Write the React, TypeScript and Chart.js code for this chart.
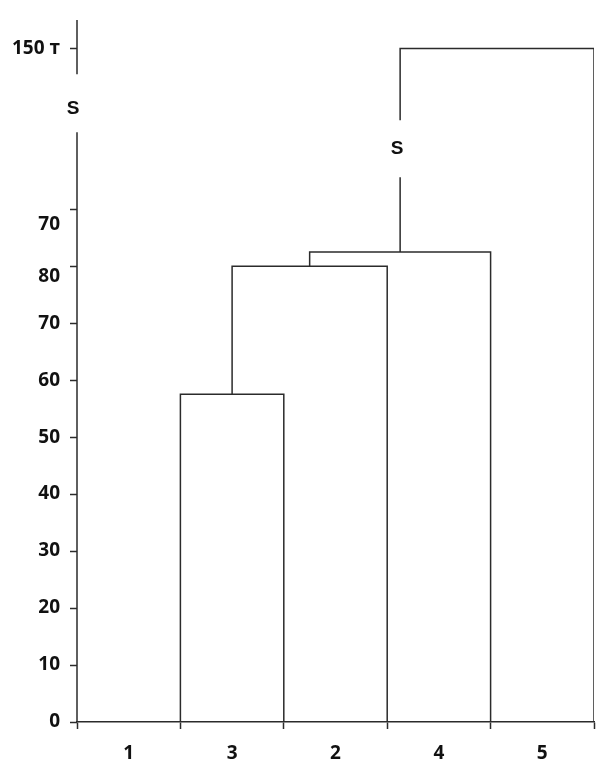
import { Chart, registerables } from 'chart.js';
import { useEffect, useRef } from 'react';

Chart.register(...registerables);

// leaves in dendrogram order, and where their legs stand on the x axis
const leafLabels = ['1', '3', '2', '4', '5'];
const leafPositions = [1, 2, 3, 4, 5];
// merges: node ids 0..4 are leaves, every merge creates the next id (5, 6, 7, 8)
const mergePairs = [
  [0, 1],
  [5, 2],
  [6, 3],
  [7, 4],
];
const mergeHeights = [57.5, 80, 82.5, 150];
const yTickValues = [0, 10, 20, 30, 40, 50, 60, 70, 80, 90, 150];
const yTickLabels = ['0', '10', '20', '30', '40', '50', '60', '70', '80', '70', '150 т'];

// values above breakStart are squeezed so that 150 fits under the top
const breakStart = 100;
const breakScale = 0.364;
const toAxis = (v: number) => (v <= breakStart ? v : breakStart + (v - breakStart) * breakScale);

const lineColor = '#2b2b2b';
const textColor = '#111';
const linkGap = [95.6, 105.6];
const axisGap = [103.5, 113.7];

type Pt = { x: number; y: number | null };

function vertical(x: number, from: number, to: number, broken: boolean): Pt[] {
  const lo = Math.min(from, to);
  const hi = Math.max(from, to);
  if (!broken || lo > linkGap[0] || hi < linkGap[1]) {
    return [
      { x, y: from },
      { x, y: to },
    ];
  }
  const pts: Pt[] = [
    { x, y: lo },
    { x, y: linkGap[0] },
    { x, y: null },
    { x, y: linkGap[1] },
    { x, y: hi },
  ];
  return from > to ? pts.reverse() : pts;
}

function buildLinks() {
  const nodeX = [...leafPositions];
  const nodeY = leafPositions.map(() => 0);
  let brokenX = 0;
  const datasets = mergePairs.map(([a, b], i) => {
    const h = toAxis(mergeHeights[i]);
    const aBroken = a >= leafPositions.length;
    const bBroken = b >= leafPositions.length;
    if (aBroken && h > linkGap[1] && nodeY[a] < linkGap[0]) brokenX = nodeX[a];
    const data: Pt[] = [
      ...vertical(nodeX[a], nodeY[a], h, aBroken),
      ...vertical(nodeX[b], h, nodeY[b], bBroken),
    ];
    nodeX.push((nodeX[a] + nodeX[b]) / 2);
    nodeY.push(h);
    return {
      label: 'merge ' + (i + 1),
      data,
      showLine: true,
      spanGaps: false,
      borderColor: lineColor,
      borderWidth: 1.5,
      pointRadius: 0,
      fill: false,
    };
  });
  return { datasets, brokenX };
}

const xTicks = [0, 0.5, 1, 1.5, 2, 2.5, 3, 3.5, 4, 4.5, 5];

function Dendrogram() {
  const chartRef = useRef<HTMLCanvasElement>(null);

  useEffect(() => {
    const context = chartRef.current?.getContext('2d');
    if (!context) return undefined;

    const { datasets, brokenX } = buildLinks();

    const breakPlugin = {
      id: 'axisBreak',
      afterDatasetsDraw(chart: any) {
        const { ctx } = chart;
        const { x, y } = chart.scales;
        const ax = x.getPixelForValue(0);
        ctx.save();
        ctx.strokeStyle = lineColor;
        ctx.lineWidth = 1.5;
        ctx.beginPath();
        ctx.moveTo(ax, y.getPixelForValue(0));
        ctx.lineTo(ax, y.getPixelForValue(axisGap[0]));
        ctx.moveTo(ax, y.getPixelForValue(axisGap[1]));
        ctx.lineTo(ax, y.top);
        ctx.stroke();
        ctx.font = 'bold 19px "Liberation Sans", Arial, sans-serif';
        ctx.fillStyle = textColor;
        ctx.textAlign = 'center';
        ctx.textBaseline = 'middle';
        ctx.fillText('S', ax - 4, y.getPixelForValue((axisGap[0] + axisGap[1]) / 2 - 1));
        ctx.fillText('S', x.getPixelForValue(brokenX) - 3, y.getPixelForValue((linkGap[0] + linkGap[1]) / 2));
        ctx.restore();
      },
    };

    const chartInstance = new Chart(context, {
      type: 'scatter',
      data: { datasets },
      plugins: [breakPlugin],
      options: {
        animation: false,
        responsive: false,
        layout: { padding: { top: 20, right: 13, left: 0, bottom: 0 } },
        plugins: {
          legend: { display: false },
          tooltip: { enabled: false },
        },
        scales: {
          x: {
            type: 'linear',
            min: 0,
            max: 5,
            afterBuildTicks: (scale: any) => {
              scale.ticks = xTicks.map((v) => ({ value: v }));
            },
            afterFit: (scale: any) => {
              scale.height = 48;
            },
            ticks: {
              autoSkip: false,
              maxRotation: 0,
              padding: 13,
              color: textColor,
              font: { family: '"Open Sans", sans-serif', size: 19, weight: 'bold' },
              callback: (value: any) => {
                const v = Number(value);
                return v % 1 === 0.5 ? leafLabels[Math.floor(v)] : '';
              },
            },
            grid: {
              drawOnChartArea: false,
              tickLength: 7,
              tickWidth: 1.5,
              color: (ctx: any) => (ctx.tick && ctx.tick.value % 1 === 0 ? lineColor : 'transparent'),
            },
            border: { color: lineColor, width: 1.5 },
          },
          y: {
            type: 'linear',
            min: 0,
            max: 123.2,
            afterBuildTicks: (scale: any) => {
              scale.ticks = yTickValues.map((v) => ({ value: toAxis(v) }));
            },
            afterFit: (scale: any) => {
              scale.width = 77;
            },
            ticks: {
              autoSkip: false,
              padding: 10,
              color: textColor,
              font: (ctx: any) => ({
                family: '"Open Sans", sans-serif',
                size: 19,
                weight: 'bold',
                lineHeight: ctx.index === 9 ? 1.6 : 1.05,
              }),
              callback: (_value: any, index: number) =>
                index === 8 || index === 9 ? ['', yTickLabels[index]] : yTickLabels[index],
            },
            grid: {
              drawOnChartArea: false,
              tickLength: 7,
              tickWidth: 1.5,
              color: lineColor,
            },
            border: { display: false },
          },
        },
      },
    });

    return () => {
      chartInstance.destroy();
    };
  }, []);

  return (
    <div style={{ position: 'absolute', left: 0, top: 0, width: 607, height: 770, background: '#fff' }}>
      <canvas ref={chartRef} width={607} height={770} style={{ display: 'block' }}></canvas>
    </div>
  );
}

export default function App() {
  return <Dendrogram />;
}
